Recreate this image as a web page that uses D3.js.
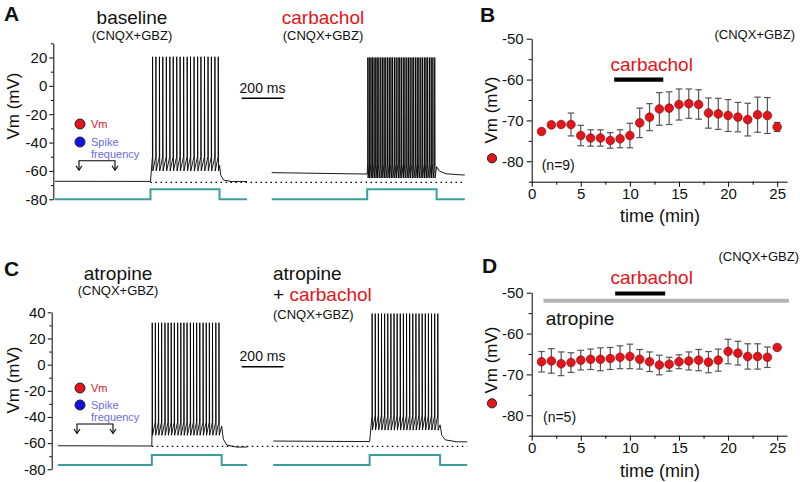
<!DOCTYPE html>
<html><head><meta charset="utf-8">
<script src="https://cdn.jsdelivr.net/npm/d3@7"></script>
<style>body{margin:0;background:#fff} svg{display:block;font-family:"Liberation Sans",Arial,sans-serif}</style>
</head><body><svg id="c" width="800" height="482"></svg>
<script>
// ---------------- DATA ----------------
const timeMin = [1,2,3,4,5,6,7,8,9,10,11,12,13,14,15,16,17,18,19,20,21,22,23,24,25];
const vmB  = [-72.7,-71.1,-71.0,-71.0,-73.7,-74.3,-74.3,-74.9,-74.5,-73.7,-70.6,-69.2,-67.2,-67.0,-66.1,-65.9,-66.1,-68.2,-68.4,-68.8,-69.2,-69.8,-68.6,-68.8,-71.6];
const errB = [0,0,0,2.8,2.5,2.0,2.0,1.9,2.2,3.0,3.6,3.3,4.0,4.0,3.8,3.6,3.6,3.7,3.8,3.9,3.6,4.0,4.3,4.4,1.1];
const vmD  = [-66.9,-66.7,-67.4,-67.1,-66.5,-66.3,-66.3,-66.1,-65.8,-65.6,-66.3,-66.9,-67.7,-67.5,-66.9,-66.7,-66.5,-67.0,-66.5,-64.4,-64.8,-65.6,-65.6,-65.8,-63.4];
const errD = [2.5,3.0,2.9,2.4,2.4,2.5,2.8,2.7,2.8,3.0,2.4,2.4,2.4,1.7,1.7,2.2,2.6,2.6,2.7,3.0,2.9,3.1,3.1,2.5,0];
const carbacholB = [8.4, 13.4];   // min, drawn at -60 mV
const carbacholD = [8.5, 13.6];   // min
const atropineD  = [1.2, 26.2];   // min
const ticksTime = [0,5,10,15,20,25];
const ticksVmSummary = [-80,-70,-60,-50];
const ticksVmA = [-80,-60,-40,-20,0,20];
const ticksVmC = [-80,-60,-40,-20,0,20,40];

// traces: 0 baseline, 1 carbachol, 2 atropine, 3 atropine+carbachol (ms, mV)
const restPre    = [-67.3,-61.2,-62.0,-58.4];
const restPreEnd = [-67.4,-62.2,-62.2,-58.8];
const spikePeak  = [20.5,20.0,32.0,39.0];
const spikeThr   = [-50,-55,-44,-39];
const ahpTrough  = [-60,-65,-54,-50];
const stepOn     = [458,458,450,462];
const stepOff    = [789,791,785,800];
const traceEnd   = [921,926,907,930];
const spikes0 = [468,484,501,517,534,551,567,584,600,617,634,650,667,684,700,717,734,750,767,783];
const spikes1 = [461,468,476,483,491,499,506,514,523,531,539,547,556,564,572,580,589,597,606,614,622,631,639,648,656,664,673,681,690,698,706,715,723,732,740,748,757,765,773,782];
const spikes2 = [452,467,482,497,513,528,543,558,574,589,604,619,635,650,665,680,696,711,726,741,757,772];
const spikes3 = [474,489,504,519,534,549,564,579,594,609,624,639,654,669,684,699,714,729,744,759,774,789];
const post0 = [[0,-56],[6,-63],[20,-66.5],[60,-67.5]];
const post1 = [[0,-57],[12,-60],[45,-62],[120,-62.8]];
const post2 = [[0,-47],[8,-57],[25,-61.5],[70,-63]];
const post3 = [[0,-46],[8,-54],[25,-57.5],[80,-59]];
const refLineVm = [-68, -62.5];
const stepCurrent = [0, 100]; // pA (holding, step)

// ---------------- DRAW ----------------
const svg = d3.select("#c");
const RED = "#e3141b", TEAL = "#3a9e9b";

function txt(x, y, s, o = {}) {
  const t = svg.append("text").attr("x", x).attr("y", y).text(s)
    .attr("font-size", o.size || 15).attr("fill", o.fill || "#111")
    .attr("text-anchor", o.anchor || "start");
  if (o.bold) t.attr("font-weight", "bold");
  if (o.rot) t.attr("transform", `rotate(-90,${x},${y})`);
  return t;
}

function yAxis(scale, x, majors, minorStep, fs, size, pad) {
  const dom = scale.domain();
  const minors = d3.range(dom[0], dom[1] + 0.001, minorStep).filter(v => !majors.includes(v));
  const g = svg.append("g").attr("transform", `translate(${x},0)`);
  g.call(d3.axisLeft(scale).tickValues(majors).tickFormat(d => String(d)).tickSize(size).tickSizeOuter(0).tickPadding(pad));
  g.selectAll("text").attr("font-size", fs).attr("fill", "#111").attr("font-family", "Liberation Sans, Arial, sans-serif");
  const g2 = svg.append("g").attr("transform", `translate(${x},0)`);
  g2.call(d3.axisLeft(scale).tickValues(minors).tickFormat("").tickSize(size * 0.6).tickSizeOuter(0));
  g2.select(".domain").remove();
}
function xAxis(scale, y, majors, minorStep, fs) {
  const dom = scale.domain();
  const minors = d3.range(dom[0], dom[1] + 0.001, minorStep).filter(v => !majors.includes(v));
  const g = svg.append("g").attr("transform", `translate(0,${y})`);
  g.call(d3.axisBottom(scale).tickValues(majors).tickFormat(d => String(d)).tickSize(5).tickSizeOuter(0).tickPadding(2));
  g.selectAll("text").attr("font-size", fs).attr("fill", "#111").attr("font-family", "Liberation Sans, Arial, sans-serif");
  const g2 = svg.append("g").attr("transform", `translate(0,${y})`);
  g2.call(d3.axisBottom(scale).tickValues(minors).tickFormat("").tickSize(3).tickSizeOuter(0));
  g2.select(".domain").remove();
}

// ---- Trace panels A, C ----
const yA = d3.scaleLinear().domain([-80, 30]).range([199.3, 43.3]);
const yC = d3.scaleLinear().domain([-80, 40]).range([469.3, 312.3]);
const iA = d3.scaleLinear().domain(stepCurrent).range([199.3, 189.3]);
const iC = d3.scaleLinear().domain(stepCurrent).range([465, 455]);
const traceLayout = [
  { y: yA, iy: iA, x0: 55 },
  { y: yA, iy: iA, x0: 271.7 },
  { y: yC, iy: iC, x0: 58 },
  { y: yC, iy: iC, x0: 273.3 }];
const spikeSets = [spikes0, spikes1, spikes2, spikes3];
const postSets = [post0, post1, post2, post3];
const PX_PER_MS = 41.7 / 200;

yAxis(yA, 53.3, ticksVmA, 10, 15, 4, 2);
yAxis(yC, 51.7, ticksVmC, 10, 15, 4, 2);

const tScales = traceLayout.map((L, i) =>
  d3.scaleLinear().domain([0, traceEnd[i]]).range([L.x0, L.x0 + traceEnd[i] * PX_PER_MS]));

traceLayout.forEach((L, i) => {
  const pts = [[0, restPre[i]], [stepOn[i], restPreEnd[i]]];
  const sp = spikeSets[i];
  sp.forEach((ts, k) => {
    pts.push([ts - 0.6, spikeThr[i]]);
    pts.push([ts, spikePeak[i]]);
    pts.push([ts + 1.3, ahpTrough[i]]);
  });
  postSets[i].forEach(p => pts.push([stepOff[i] + p[0], p[1]]));
  pts.push([traceEnd[i], postSets[i][postSets[i].length - 1][1]]);
  const x = tScales[i];
  svg.append("path").attr("d", d3.line().x(d => x(d[0])).y(d => L.y(d[1]))(pts))
    .attr("fill", "none").attr("stroke", "#000").attr("stroke-width", 0.9).attr("stroke-linejoin", "round");
  // current step
  const cur = [[0, stepCurrent[0]], [stepOn[i], stepCurrent[0]], [stepOn[i], stepCurrent[1]],
               [stepOff[i], stepCurrent[1]], [stepOff[i], stepCurrent[0]], [traceEnd[i], stepCurrent[0]]];
  svg.append("path").attr("d", d3.line().x(d => x(d[0])).y(d => L.iy(d[1]))(cur))
    .attr("fill", "none").attr("stroke", TEAL).attr("stroke-width", 2);
});
// dotted reference lines
[[0, 1, yA, refLineVm[0]], [2, 3, yC, refLineVm[1]]].forEach(([a, b, ys, v]) => {
  svg.append("line").attr("x1", tScales[a](stepOn[a])).attr("x2", tScales[b](traceEnd[b]))
    .attr("y1", ys(v)).attr("y2", ys(v)).attr("stroke", "#000").attr("stroke-width", 1.2)
    .attr("stroke-dasharray", "1.5,3.5");
});
// 200 ms scale bars
[[98.3, 93], [366.7, 361]].forEach(([by, ty]) => {
  const x1 = 241.7, x2 = x1 + 200 * PX_PER_MS;
  svg.append("line").attr("x1", x1).attr("x2", x2).attr("y1", by).attr("y2", by).attr("stroke", "#000").attr("stroke-width", 1.4);
  txt((x1 + x2) / 2, ty, "200 ms", { size: 14, anchor: "middle" });
});
// legends in A and C
[[124, 142, 160.7, 79, 115], [388, 405, 424, 77, 113]].forEach(([ry, by, bry, bx1, bx2]) => {
  svg.append("circle").attr("cx", 80).attr("cy", ry).attr("r", 5).attr("fill", RED).attr("stroke", "#222").attr("stroke-width", 1);
  txt(91, ry + 4, "Vm", { size: 11, fill: RED });
  svg.append("circle").attr("cx", 80).attr("cy", by).attr("r", 5).attr("fill", "#1212e6").attr("stroke", "#222").attr("stroke-width", 1);
  txt(91, by + 4, "Spike", { size: 11, fill: "#6b6be0" });
  txt(91, by + 16, "frequency", { size: 11, fill: "#6b6be0" });
  svg.append("path").attr("d", `M${bx1},${bry + 9}V${bry}H${bx2}V${bry + 9}`).attr("fill", "none").attr("stroke", "#000").attr("stroke-width", 1.1);
  [bx1, bx2].forEach(bx => svg.append("path").attr("d", `M${bx - 3},${bry + 5}L${bx},${bry + 9.5}L${bx + 3},${bry + 5}`)
    .attr("fill", "none").attr("stroke", "#000").attr("stroke-width", 1.1));
});

// texts A / C
txt(4, 21, "A", { size: 21, bold: true });
txt(132, 24, "baseline", { size: 19, anchor: "middle" });
txt(132, 40, "(CNQX+GBZ)", { size: 13, anchor: "middle" });
txt(323, 24, "carbachol", { size: 19, anchor: "middle", fill: RED });
txt(323, 40, "(CNQX+GBZ)", { size: 13, anchor: "middle" });
txt(19, 106, "Vm (mV)", { size: 17, anchor: "middle", rot: true });

txt(4, 276, "C", { size: 21, bold: true });
txt(118, 280, "atropine", { size: 19, anchor: "middle" });
txt(118, 295, "(CNQX+GBZ)", { size: 13, anchor: "middle" });
txt(273, 280, "atropine", { size: 19 });
const pc = txt(273, 301, "+ ", { size: 19 });
pc.append("tspan").attr("fill", RED).text("carbachol");
txt(273, 319, "(CNQX+GBZ)", { size: 13 });
txt(19, 380, "Vm (mV)", { size: 17, anchor: "middle", rot: true });

// ---- Summary panels B, D ----
const xT = d3.scaleLinear().domain([0, 26]).range([531.7, 787]);
const yB = d3.scaleLinear().domain([-85, -50]).range([181.7, 38.7]);
const yD = d3.scaleLinear().domain([-85, -50]).range([435.7, 292.7]);

function summary(yS, vm, err) {
  yAxis(yS, 531.7, ticksVmSummary, 5, 15, 5, 3);
  xAxis(xT, yS.range()[0], ticksTime, 2.5, 15);
  const g = svg.append("g");
  timeMin.forEach((t, i) => {
    if (err[i] > 0) {
      const x = xT(t), y1 = yS(vm[i] - err[i]), y2 = yS(vm[i] + err[i]);
      g.append("line").attr("x1", x).attr("x2", x).attr("y1", y1).attr("y2", y2).attr("stroke", "#555").attr("stroke-width", 1.2);
      [y1, y2].forEach(yy => g.append("line").attr("x1", x - 3.3).attr("x2", x + 3.3).attr("y1", yy).attr("y2", yy).attr("stroke", "#555").attr("stroke-width", 1.2));
    }
  });
  g.selectAll("circle.pt").data(timeMin).enter().append("circle")
    .attr("cx", d => xT(d)).attr("cy", (d, i) => yS(vm[i])).attr("r", 4.3)
    .attr("fill", RED).attr("stroke", "#8a0a0a").attr("stroke-width", 0.7);
}
summary(yB, vmB, errB);
summary(yD, vmD, errD);

// B annotations
svg.append("line").attr("x1", xT(carbacholB[0])).attr("x2", xT(carbacholB[1])).attr("y1", yB(-60)).attr("y2", yB(-60)).attr("stroke", "#000").attr("stroke-width", 4.3);
txt(651.7, 71, "carbachol", { size: 19, anchor: "middle", fill: RED });
txt(795, 39, "(CNQX+GBZ)", { size: 13, anchor: "end" });
txt(541.7, 170, "(n=9)", { size: 14 });
txt(480, 22, "B", { size: 21, bold: true });
txt(497, 110, "Vm (mV)", { size: 17, anchor: "middle", rot: true });
svg.append("circle").attr("cx", 492).attr("cy", 158.3).attr("r", 4.6).attr("fill", RED).attr("stroke", "#222").attr("stroke-width", 1);
txt(660, 222, "time (min)", { size: 18, anchor: "middle" });

// D annotations
svg.append("line").attr("x1", xT(atropineD[0])).attr("x2", xT(atropineD[1])).attr("y1", yD(-52)).attr("y2", yD(-52)).attr("stroke", "#b4b4b4").attr("stroke-width", 4);
svg.append("line").attr("x1", xT(carbacholD[0])).attr("x2", xT(carbacholD[1])).attr("y1", yD(-50.2)).attr("y2", yD(-50.2)).attr("stroke", "#000").attr("stroke-width", 4);
txt(651.7, 284, "carbachol", { size: 19, anchor: "middle", fill: RED });
txt(545.7, 325, "atropine", { size: 19 });
txt(799, 261, "(CNQX+GBZ)", { size: 13, anchor: "end" });
txt(543, 422, "(n=5)", { size: 14 });
txt(482, 273, "D", { size: 21, bold: true });
txt(497, 360, "Vm (mV)", { size: 17, anchor: "middle", rot: true });
svg.append("circle").attr("cx", 492).attr("cy", 403.3).attr("r", 4.6).attr("fill", RED).attr("stroke", "#222").attr("stroke-width", 1);
txt(660, 477, "time (min)", { size: 18, anchor: "middle" });
</script></body></html>
